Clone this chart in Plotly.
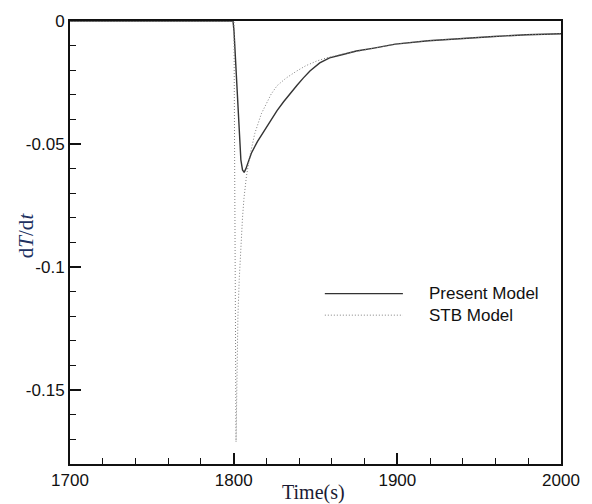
import plotly.graph_objects as go

# ---- data ----
present_t = [1700, 1799.6, 1800.2, 1801.0, 1801.8, 1803.2, 1804.4, 1805.4, 1806.4, 1807.5,
             1809.0, 1810.8, 1814.5, 1818.9, 1822.5, 1826.5, 1830.5, 1834.9, 1838.6, 1842.5,
             1846.6, 1852.6, 1858.6, 1866.7, 1875.0, 1885.7, 1898.8, 1918.9, 1939.0, 1959.0,
             1979.0, 2000.0]
present_y = [0.0, 0.0, -0.004, -0.014, -0.023, -0.043, -0.0564, -0.0605, -0.0615, -0.0600,
             -0.0570, -0.0537, -0.0490, -0.0444, -0.0402, -0.0364, -0.0328, -0.0290, -0.0262, -0.0232,
             -0.0203, -0.0170, -0.0150, -0.0136, -0.0122, -0.0110, -0.0094, -0.0080, -0.0070, -0.0063,
             -0.0056, -0.0052]

stb_t = [1700, 1800.2, 1800.4, 1800.7, 1800.9, 1801.3, 1801.45, 1801.7, 1802.0, 1802.6,
         1803.4, 1804.4, 1805.4, 1806.3, 1807.2, 1807.8, 1809.8, 1812.9, 1816.9, 1822.9,
         1826.5, 1832.0, 1838.6, 1844.0, 1850.6, 1856.6, 1866.7, 1885.7, 1898.8, 1918.9,
         1939.0, 1959.0, 1979.0, 2000.0]
stb_y = [0.0, 0.0, -0.03, -0.10, -0.14, -0.168, -0.171, -0.160, -0.140, -0.120,
         -0.105, -0.0905, -0.080, -0.072, -0.0658, -0.0631, -0.0551, -0.0457, -0.0377, -0.0297,
         -0.0263, -0.0232, -0.0203, -0.0182, -0.0163, -0.0150, -0.0134, -0.0111, -0.0094, -0.0080,
         -0.0070, -0.0063, -0.0056, -0.0052]

x_tickvals = [1700, 1800, 1900, 2000]
x_ticktext = ["1700", "1800", "1900", "2000"]
y_tickvals = [0, -0.05, -0.1, -0.15]
y_ticktext = ["0", "-0.05", "-0.1", "-0.15"]

series_names = ["Present Model", "STB Model"]

present_style = dict(color="#333333", width=1.4)
stb_style = dict(color="#808080", width=1.0, dash="1px,2px")

fig = go.Figure()
fig.add_trace(go.Scatter(x=present_t, y=present_y, mode="lines", name=series_names[0],
                         line=present_style, showlegend=False))
fig.add_trace(go.Scatter(x=stb_t, y=stb_y, mode="lines", name=series_names[1],
                         line=stb_style, showlegend=False))

axis_common = dict(showgrid=False, zeroline=False, showline=True, linecolor="#111111",
                   linewidth=2, mirror=True, ticks="inside", tickcolor="#111111",
                   tickwidth=2, ticklen=11,
                   tickfont=dict(family="Liberation Sans, Arial, sans-serif", size=17, color="#111111"))

fig.update_xaxes(range=[1700, 2000], tickvals=x_tickvals, ticktext=x_ticktext,
                 minor=dict(ticks="inside", dtick=20, ticklen=6, tickwidth=1.3, tickcolor="#111111"),
                 **axis_common)
fig.update_yaxes(range=[-0.18, 0], tickvals=y_tickvals, ticktext=y_ticktext,
                 minor=dict(ticks="inside", dtick=0.01, tick0=0, ticklen=6, tickwidth=1.3, tickcolor="#111111"),
                 **axis_common)

# axis titles
fig.add_annotation(text="Time(s)", xref="paper", yref="paper", x=0.4964, y=-0.0647,
                   showarrow=False, xanchor="center", yanchor="middle",
                   font=dict(family="Liberation Serif, Times New Roman, serif", size=20, color="#1a1a33"))
fig.add_annotation(text="d<i>T</i>/d<i>t</i>", xref="paper", yref="paper", x=-0.0905, y=0.5156,
                   showarrow=False, xanchor="center", yanchor="middle", textangle=-90,
                   font=dict(family="Liberation Serif, Times New Roman, serif", size=21, color="#203060"))

# legend (drawn manually to match long sample lines)
leg_y = [0.3846, 0.336]
leg_styles = [present_style, stb_style]
for name, yy, st in zip(series_names, leg_y, leg_styles):
    fig.add_shape(type="line", xref="paper", yref="paper", x0=0.519, x1=0.678, y0=yy, y1=yy, line=st)
    fig.add_annotation(text=name, xref="paper", yref="paper", x=0.7277, y=yy, showarrow=False,
                       xanchor="left", yanchor="middle",
                       font=dict(family="Liberation Sans, Arial, sans-serif", size=17, color="#111111"))

fig.update_layout(width=592, height=504, margin=dict(l=70, r=25, t=16, b=40),
                  paper_bgcolor="white", plot_bgcolor="white")

fig.write_html("out.html", config={"displayModeBar": False},
               post_script="document.body.style.margin='0';document.body.style.padding='0';document.body.style.overflow='hidden';")
